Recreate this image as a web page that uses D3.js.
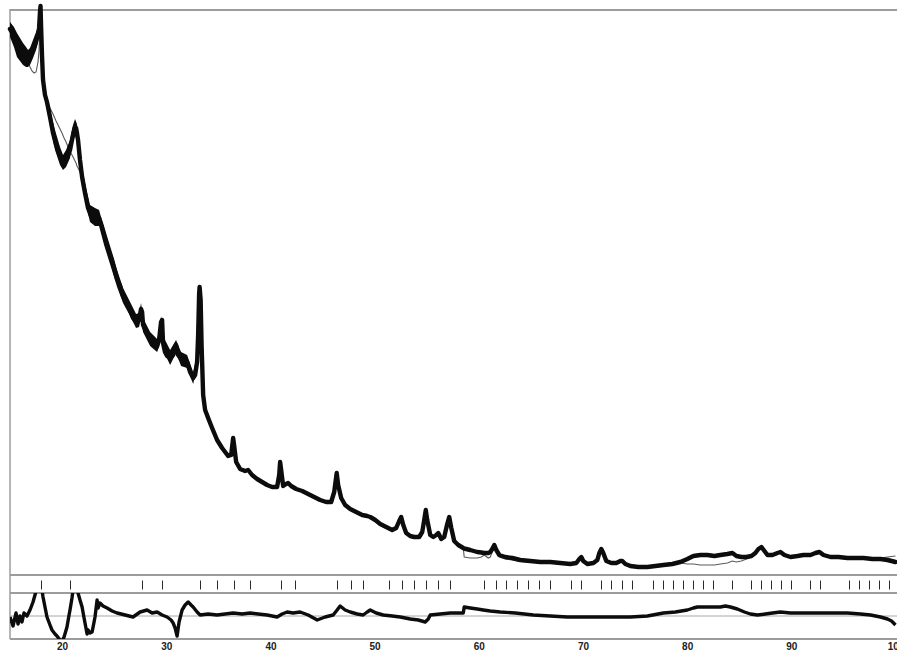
<!DOCTYPE html>
<html>
<head>
<meta charset="utf-8">
<script src="https://cdn.jsdelivr.net/npm/d3@7/dist/d3.min.js"></script>
<style>
  html, body { margin: 0; padding: 0; background: #fff; }
  svg { display: block; }
</style>
</head>
<body>
<svg id="chart" width="897" height="651"></svg>
<script>
// Powder pattern: observed profile, calculated profile, reflection markers, difference curve.

const twoTheta = [
  15.00, 15.29, 15.58, 15.86, 16.15, 16.44, 16.73, 16.92, 17.11, 17.31,
  17.50, 17.69, 17.79, 17.88, 17.93, 17.98, 18.07, 18.17, 18.36, 18.55,
  18.84, 19.13, 19.42, 19.71, 19.99, 20.19, 20.38, 20.57, 20.76, 20.95,
  21.15, 21.24, 21.34, 21.43, 21.53, 21.72, 21.92, 22.20, 22.49, 22.78,
  23.07, 23.36, 23.55, 23.84, 24.12, 24.41, 24.80, 25.28, 25.57, 25.85,
  26.24, 26.53, 26.81, 27.10, 27.39, 27.58, 27.68, 27.77, 28.06, 28.45,
  28.83, 29.12, 29.31, 29.50, 29.60, 29.69, 29.88, 30.08, 30.37, 30.66,
  30.94, 31.14, 31.42, 31.71, 32.00, 32.29, 32.58, 32.77, 32.96, 33.06,
  33.15, 33.20, 33.30, 33.39, 33.54, 33.73, 34.02, 34.40, 34.88, 35.36,
  35.94, 36.23, 36.42, 36.51, 36.71, 37.09, 37.57, 37.86, 38.24, 38.72,
  39.20, 39.68, 40.16, 40.64, 40.84, 40.93, 41.03, 41.22, 41.51, 41.70,
  41.99, 42.47, 43.05, 43.62, 44.20, 44.77, 45.35, 45.83, 46.12, 46.36,
  46.50, 46.79, 47.17, 47.66, 48.23, 48.81, 49.29, 49.58, 50.06, 50.54,
  51.11, 51.69, 52.07, 52.36, 52.55, 52.75, 53.03, 53.42, 53.80, 54.28,
  54.57, 54.76, 54.91, 55.05, 55.34, 55.63, 55.92, 56.11, 56.40, 56.68,
  56.97, 57.16, 57.36, 57.64, 58.03, 58.51, 58.60, 59.18, 59.85, 60.24,
  60.52, 60.91, 61.10, 61.29, 61.49, 61.68, 61.97, 62.54, 63.21, 63.98,
  64.94, 65.90, 66.86, 67.82, 68.78, 69.36, 69.65, 69.84, 70.03, 70.42,
  71.00, 71.38, 71.57, 71.76, 71.95, 72.24, 72.72, 73.20, 73.59, 73.78,
  74.07, 74.55, 75.32, 76.18, 76.95, 77.72, 78.58, 79.35, 80.02, 80.60,
  81.27, 81.94, 82.62, 83.19, 83.86, 84.34, 84.73, 85.21, 85.69, 86.17,
  86.55, 86.84, 87.13, 87.42, 87.71, 88.19, 88.67, 88.95, 89.34, 89.92,
  90.59, 91.16, 91.84, 92.32, 92.70, 93.09, 93.76, 94.53, 95.39, 96.16,
  96.93, 97.79, 98.56, 99.23, 100.00
];

const yObs = [
  5460, 5410, 5350, 5290, 5240, 5200, 5170, 5180, 5230, 5280,
  5340, 5400, 5470, 5630, 5690, 5500, 5200, 4950, 4800, 4730,
  4580, 4420, 4300, 4220, 4150, 4120, 4150, 4200, 4250, 4350,
  4450, 4480, 4470, 4420, 4350, 4150, 3980, 3820, 3670, 3590,
  3550, 3580, 3570, 3480, 3380, 3280, 3150, 2960, 2890, 2790,
  2720, 2650, 2570, 2530, 2550, 2660, 2630, 2500, 2430, 2360,
  2320, 2290, 2350, 2530, 2550, 2320, 2230, 2190, 2170, 2200,
  2300, 2200, 2160, 2160, 2130, 2030, 1970, 2000, 2130, 2400,
  2800, 2880, 2750, 2300, 1800, 1650, 1570, 1470, 1350, 1270,
  1190, 1200, 1370, 1300, 1130, 1060, 1040, 1050, 1000, 960,
  930, 900, 880, 880, 1000, 1130, 1050, 890, 910, 920,
  890, 860, 840, 810, 780, 750, 730, 730, 830, 1020,
  900, 770, 700, 660, 630, 600, 590, 580, 550, 510,
  480, 450, 470, 540, 580, 500, 420, 390, 380, 380,
  430, 550, 650, 550, 400, 380, 400, 420, 360, 380,
  510, 580, 470, 340, 300, 270, 265, 250, 230, 225,
  220, 220, 230, 260, 300, 250, 200, 180, 170, 150,
  140, 130, 130, 120, 110, 120, 160, 180, 140, 110,
  120, 150, 220, 260, 220, 140, 120, 120, 140, 140,
  110, 90, 80, 80, 90, 100, 110, 130, 160, 190,
  200, 200, 190, 200, 210, 220, 190, 180, 180, 190,
  220, 260, 280, 240, 200, 200, 220, 230, 200, 180,
  190, 200, 200, 220, 230, 200, 180, 180, 170, 170,
  170, 160, 160, 150, 130
];

const yCalc = [
  5460, 5410, 5350, 5290, 5240, 5200, 5130, 5080, 5040, 5020,
  5030, 5130, 5250, 5470, 5550, 5450, 5150, 4930, 4800, 4750,
  4670, 4610, 4540, 4480, 4420, 4370, 4330, 4280, 4240, 4200,
  4160, 4140, 4120, 4090, 4070, 4030, 3980, 3820, 3670, 3590,
  3550, 3580, 3570, 3480, 3380, 3280, 3150, 2960, 2890, 2790,
  2720, 2650, 2570, 2530, 2550, 2660, 2630, 2500, 2430, 2360,
  2320, 2290, 2350, 2530, 2550, 2320, 2230, 2190, 2170, 2200,
  2300, 2200, 2160, 2160, 2130, 2030, 1970, 2000, 2130, 2400,
  2800, 2880, 2750, 2300, 1800, 1650, 1570, 1470, 1350, 1270,
  1190, 1200, 1370, 1300, 1130, 1060, 1040, 1050, 1000, 960,
  930, 900, 880, 880, 1000, 1130, 1050, 890, 910, 920,
  890, 860, 840, 810, 780, 750, 730, 730, 830, 1020,
  900, 770, 700, 660, 630, 600, 590, 580, 550, 510,
  480, 450, 470, 540, 580, 500, 420, 390, 380, 380,
  430, 550, 650, 550, 400, 380, 400, 420, 360, 380,
  510, 580, 470, 340, 300, 270, 180, 170, 170, 180,
  200, 170, 180, 230, 280, 230, 180, 160, 150, 135,
  130, 120, 120, 110, 110, 120, 160, 180, 140, 110,
  120, 150, 220, 260, 220, 140, 120, 120, 140, 140,
  110, 90, 80, 80, 90, 100, 110, 120, 110, 110,
  100, 100, 100, 110, 120, 140, 130, 140, 160, 180,
  210, 260, 280, 240, 200, 200, 220, 230, 200, 180,
  190, 200, 200, 220, 230, 200, 180, 180, 170, 170,
  170, 160, 170, 180, 190
];

// Scatter envelope of the observed counts in the noisy low-angle part
const noiseTheta = [
  15.00, 15.38, 15.67, 15.96, 16.25, 16.54, 16.73, 16.92, 17.21, 17.50,
  17.69, 17.83, 17.93, 18.02, 18.17, 18.46, 18.84, 19.32, 19.80, 20.09,
  20.38, 20.76, 21.05, 21.24, 21.43, 21.63, 21.92, 22.30, 22.68, 23.16,
  23.55, 24.03, 24.60, 25.28, 25.85, 26.53, 27.10, 27.39, 27.58, 27.77,
  28.45, 29.12, 29.31, 29.50, 29.69, 30.37, 30.94, 31.42, 32.00, 32.58,
  32.96
];
const noiseHigh = [
  5530, 5480, 5420, 5370, 5320, 5280, 5250, 5270, 5350, 5430,
  5480, 5630, 5680, 5450, 5000, 4830, 4650, 4450, 4280, 4200,
  4250, 4350, 4500, 4560, 4510, 4300, 4070, 3870, 3700, 3670,
  3650, 3470, 3270, 3050, 2870, 2730, 2610, 2620, 2720, 2570,
  2430, 2360, 2420, 2590, 2390, 2250, 2350, 2230, 2200, 2030,
  2190
];
const noiseLow = [
  5380, 5280, 5180, 5140, 5100, 5080, 5080, 5100, 5170, 5250,
  5320, 5400, 5500, 5150, 4870, 4700, 4500, 4250, 4100, 4050,
  4080, 4170, 4330, 4400, 4330, 4100, 3900, 3700, 3530, 3490,
  3490, 3300, 3110, 2880, 2720, 2590, 2470, 2480, 2570, 2430,
  2290, 2230, 2280, 2450, 2250, 2100, 2220, 2090, 2070, 1910,
  2070
];

// Difference curve (observed - calculated)
const diffTheta = [
  15.00, 15.29, 15.58, 15.77, 15.96, 16.15, 16.34, 16.63, 16.92, 17.21,
  17.40, 17.59, 17.88, 18.07, 18.17, 18.36, 18.55, 18.84, 19.03, 19.32,
  19.51, 19.80, 19.99, 20.19, 20.47, 20.67, 20.76, 20.95, 21.05, 21.24,
  21.43, 21.53, 21.72, 21.92, 22.11, 22.20, 22.40, 22.49, 22.68, 22.88,
  23.07, 23.16, 23.36, 23.45, 23.64, 23.93, 24.32, 24.80, 25.28, 26.05,
  26.81, 27.49, 28.16, 28.64, 29.12, 29.60, 30.08, 30.46, 30.66, 30.85,
  31.04, 31.23, 31.52, 31.81, 32.10, 32.38, 32.58, 32.96, 33.25, 34.02,
  34.88, 35.65, 36.42, 37.28, 38.05, 38.82, 39.68, 40.16, 40.64, 41.12,
  41.60, 42.18, 42.85, 43.62, 44.49, 45.25, 46.02, 46.40, 46.69, 47.17,
  47.66, 48.33, 48.90, 49.29, 49.58, 50.15, 50.82, 51.69, 52.46, 53.42,
  54.19, 54.86, 55.15, 55.34, 56.30, 57.26, 58.03, 58.51, 58.60, 59.18,
  59.85, 60.43, 61.10, 62.06, 63.50, 65.23, 66.86, 68.50, 70.03, 71.67,
  73.11, 74.55, 76.18, 77.72, 78.87, 80.02, 80.60, 80.98, 81.75, 82.42,
  83.19, 83.67, 84.15, 84.82, 85.50, 86.07, 86.75, 87.51, 88.19, 88.95,
  89.92, 90.87, 92.22, 93.76, 95.39, 96.64, 97.60, 98.56, 99.23, 99.62,
  100.00
];
const diffVal = [
  -10, -100, 30, -80, 0, -60, 30, 0, 60, 140,
  210, 280, 310, 260, 190, 90, -10, -90, -140, -180,
  -200, -240, -250, -210, -110, 10, 60, 180, 260, 310,
  280, 230, 160, 90, -20, -70, -180, -140, -170, -160,
  -60, -10, 160, 80, 130, 100, 80, 50, 30, 10,
  -10, 40, 60, 30, 40, 10, -10, -40, -70, -120,
  -200, -60, 60, 110, 140, 110, 90, 40, 10, 20,
  10, 20, 30, 20, 30, 20, 10, 0, -10, 20,
  40, 30, 40, 10, -40, -10, 10, 60, 100, 60,
  40, 20, 10, 40, 60, 30, 10, 0, -10, -30,
  -40, -60, -30, 10, 20, 30, 30, 30, 90, 80,
  70, 60, 50, 40, 30, 10, 0, -10, -10, -10,
  -10, -10, 0, 30, 40, 60, 80, 90, 90, 90,
  90, 100, 90, 70, 40, 20, 10, 20, 30, 40,
  30, 30, 30, 30, 30, 20, 10, -10, -30, -50,
  -90
];

// Bragg reflection positions (2θ, degrees)
const braggPositions = [
  17.98, 20.79, 27.71, 29.60, 33.25, 34.91, 36.54, 38.05, 41.03, 42.40,
  46.38, 47.75, 48.93, 51.40, 52.65, 53.80, 54.95, 56.04, 57.19, 60.50,
  61.61, 62.61, 63.69, 64.75, 65.78, 66.80, 68.85, 69.81, 71.76, 72.72,
  73.71, 74.71, 76.69, 77.65, 78.61, 79.61, 80.57, 81.49, 82.45, 84.31,
  86.17, 87.13, 88.02, 88.98, 89.94, 91.81, 92.77, 95.58, 96.54, 97.50,
  98.43, 99.36
];

const xTickValues = [20, 30, 40, 50, 60, 70, 80, 90, 100];

// ---- layout ----
const W = 897, H = 651;
const left = 10, right = 895.5;
const mainTop = 10, mainBottom = 575;
const tickTop = 575, tickBottom = 593;
const diffTop = 593, diffBottom = 639;

const svg = d3.select("#chart");
svg.append("rect").attr("width", W).attr("height", H).attr("fill", "#fff");

const x = d3.scaleLinear().domain([15, 100]).range([left, right]);
const y = d3.scaleLinear().domain([0, 5650]).range([mainBottom, mainTop]);
const yDiff = d3.scaleLinear().domain([-230, 230]).range([diffBottom, diffTop]);

const obsData = twoTheta.map((t, i) => ({ t, v: yObs[i] }));
const calcData = twoTheta.map((t, i) => ({ t, v: yCalc[i] }));
const noiseData = noiseTheta.map((t, i) => ({ t, lo: noiseLow[i], hi: noiseHigh[i] }));
const diffData = diffTheta.map((t, i) => ({ t, v: diffVal[i] }));

// frame
const frame = svg.append("g").attr("stroke", "#9c9c9c").attr("fill", "none");
frame.append("line").attr("x1", left).attr("x2", W).attr("y1", mainTop).attr("y2", mainTop).attr("stroke-width", 2);
frame.append("line").attr("x1", left).attr("x2", left).attr("y1", mainTop - 1).attr("y2", diffBottom).attr("stroke-width", 1.5);
[tickTop, tickBottom, diffBottom].forEach(yy => {
  frame.append("line").attr("x1", left).attr("x2", W).attr("y1", yy).attr("y2", yy).attr("stroke-width", 1.8);
});
// zero line of the difference panel
svg.append("line")
  .attr("x1", left).attr("x2", W)
  .attr("y1", yDiff(0)).attr("y2", yDiff(0))
  .attr("stroke", "#a8a8a8").attr("stroke-width", 1);

// calculated profile (underneath observed)
const line = d3.line().x(d => x(d.t)).y(d => y(d.v));
svg.append("path")
  .datum(calcData)
  .attr("d", line)
  .attr("fill", "none")
  .attr("stroke", "#5a5a5a")
  .attr("stroke-width", 1.1);

// observed scatter band
svg.append("path")
  .datum(noiseData)
  .attr("d", d3.area().x(d => x(d.t)).y0(d => y(d.lo)).y1(d => y(d.hi)))
  .attr("fill", "#0c0c0c");

// observed profile
svg.append("path")
  .datum(obsData)
  .attr("d", line)
  .attr("fill", "none")
  .attr("stroke", "#0c0c0c")
  .attr("stroke-width", 4.4)
  .attr("stroke-linejoin", "round")
  .attr("stroke-linecap", "round");

// reflection markers
svg.append("g")
  .selectAll("line")
  .data(braggPositions)
  .join("line")
  .attr("x1", d => Math.round(x(d)) + 0.5)
  .attr("x2", d => Math.round(x(d)) + 0.5)
  .attr("y1", 580.5)
  .attr("y2", 589.5)
  .attr("stroke", "#2a2a2a")
  .attr("stroke-width", 1);

// difference curve, clipped to its panel
svg.append("clipPath").attr("id", "diffClip")
  .append("rect")
  .attr("x", left).attr("y", diffTop)
  .attr("width", W - left).attr("height", diffBottom - diffTop);

svg.append("path")
  .datum(diffData)
  .attr("clip-path", "url(#diffClip)")
  .attr("d", d3.line().x(d => x(d.t)).y(d => yDiff(d.v)))
  .attr("fill", "none")
  .attr("stroke", "#0c0c0c")
  .attr("stroke-width", 3.4)
  .attr("stroke-linejoin", "round");

// x axis labels
const axis = d3.axisBottom(x)
  .tickValues(xTickValues)
  .tickSize(0)
  .tickPadding(4)
  .tickFormat(d3.format("d"));

const gx = svg.append("g")
  .attr("transform", `translate(0,${diffBottom})`)
  .call(axis);
gx.select(".domain").remove();
gx.selectAll("text")
  .attr("font-family", "'Liberation Sans', Arial, sans-serif")
  .attr("font-size", 10)
  .attr("font-weight", "bold")
  .attr("fill", "#222");
</script>
</body>
</html>
